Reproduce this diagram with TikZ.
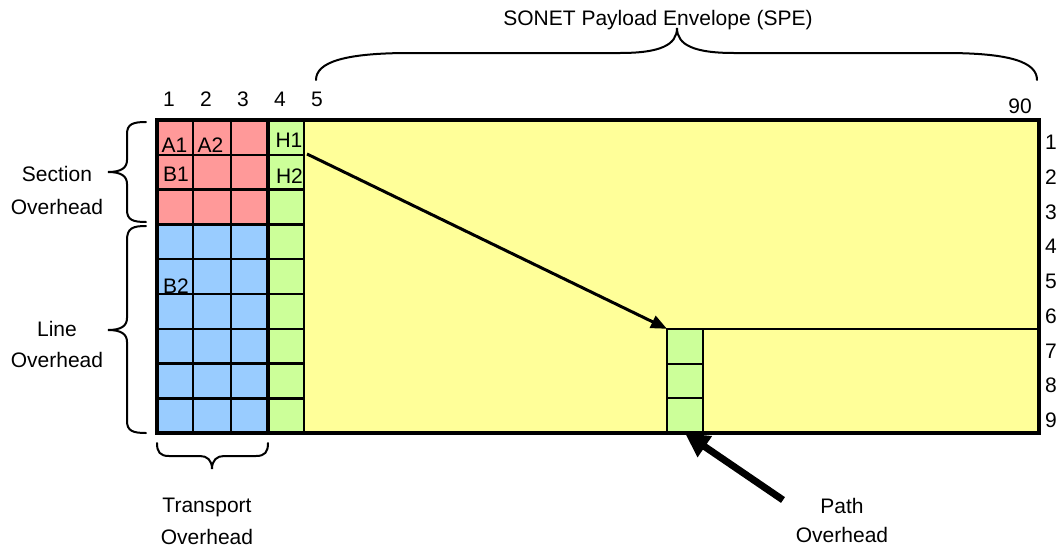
\documentclass[tikz,border=0pt]{standalone}
\usepackage{fontspec}
\setmainfont{Liberation Sans}
\usetikzlibrary{arrows.meta}
\definecolor{sohcol}{HTML}{FF9999}
\definecolor{lohcol}{HTML}{99CCFF}
\definecolor{pohcol}{HTML}{CCFF99}
\definecolor{specol}{HTML}{FFFF99}
\begin{document}
\begin{tikzpicture}[x=1pt,y=-1pt,
  lbl/.style={inner sep=0pt, text height=15pt, text depth=0pt, font=\fontsize{21}{25}\selectfont},
  gridln/.style={line width=2.4pt},
  border/.style={line width=4pt},
  bracepath/.style={line width=2pt, line cap=round},
  pcell/.style={draw, line width=2pt, fill=pohcol, minimum width=36pt, minimum height=34.8pt, inner sep=0pt, outer sep=0pt},
  ptr/.style={line width=3pt, -{Triangle[length=16pt,width=13pt]}},
  bigptr/.style={line width=7pt, -{Triangle[length=24pt,width=24pt]}}]
\useasboundingbox (0,0) rectangle (1057,549);

% fills
\fill[specol] (304,120) rectangle (1039,433.2);
\fill[sohcol] (157,120) rectangle (268,224.4);
\fill[lohcol] (157,224.4) rectangle (268,433.2);
\fill[pohcol] (268,120) rectangle (304,433.2);

% grid of overhead columns
\foreach \i in {1,...,8} \draw[gridln] (157,120+34.8*\i) -- (304,120+34.8*\i);
\foreach \xx in {193,231,304} \draw[gridln] (\xx,120) -- (\xx,433.2);

% path overhead column
\node[pcell] (p1) at (685,346.2) {};
\node[pcell] (p2) at (685,381.0) {};
\node[pcell] (p3) at (685,415.8) {};
\draw[line width=1.5pt] (p1.north east) -- (1039,328.8);

% borders
\draw[border] (157,120) rectangle (1039,433.2);
\draw[border] (268,120) -- (268,433.2);

% cell labels
\node[lbl] (ta1) at (174.5,144.5) {A1};
\node[lbl] (ta2) at (210.5,144.5) {A2};
\node[lbl] (tb1) at (176,174) {B1};
\node[lbl] (th1) at (289,140) {H1};
\node[lbl] (th2) at (289.5,176) {H2};
\node[lbl] (tb2) at (176,285.5) {B2};

% column numbers
\node[lbl] (c1) at (169,98.5) {1};
\node[lbl] (c2) at (206,98.5) {2};
\node[lbl] (c3) at (243,98.5) {3};
\node[lbl] (c4) at (280,98.5) {4};
\node[lbl] (c5) at (317,98.5) {5};
\node[lbl] (c90) at (1020,105.5) {90};

% row numbers
\foreach \r in {1,...,9} \node[lbl] (r\r) at (1051,142+34.75*\r-34.75) {\r};

% arrows
\coordinate (h1corner) at (307,154);
\draw[ptr] (h1corner) -- (p1.north west);
\coordinate (pathtail) at (783,500);
\draw[bigptr] (pathtail) -- (p3.south);

% braces
\draw[bracepath] (146,122) .. controls (133,122) and (127,124) .. (127,134) -- (127,160)
  .. controls (127,168) and (121,172) .. (108,172) .. controls (121,172) and (127,176) .. (127,184)
  -- (127,210) .. controls (127,220) and (133,222) .. (146,222);
\draw[bracepath] (146,226) .. controls (133,226) and (127,228) .. (127,240) -- (127,318)
  .. controls (127,326) and (121,330) .. (108,330) .. controls (121,330) and (127,334) .. (127,342)
  -- (127,421) .. controls (127,431) and (133,433) .. (146,433);
\draw[bracepath] (157,443) .. controls (157,452) and (160,456) .. (169,456) -- (200,456)
  .. controls (207,456) and (212,460) .. (212,469) .. controls (212,460) and (217,456) .. (224,456)
  -- (256,456) .. controls (265,456) and (268,452) .. (268,443);
\draw[bracepath] (316,80) .. controls (316,62) and (345,53) .. (410,53) -- (620,53)
  .. controls (660,53) and (677,45) .. (677,28) .. controls (677,45) and (694,53) .. (734,53)
  -- (945,53) .. controls (1010,53) and (1037,62) .. (1037,80);

% group labels
\node[lbl] (sec1) at (57,174) {Section};
\node[lbl] (sec2) at (57,207) {Overhead};
\node[lbl] (line1) at (57,329) {Line};
\node[lbl] (line2) at (57,360) {Overhead};
\node[lbl] (tr1) at (207,505) {Transport};
\node[lbl] (tr2) at (207,537) {Overhead};
\node[lbl] (po1) at (842,506) {Path};
\node[lbl] (po2) at (842,535) {Overhead};
\node[lbl] (spe) at (658,18) {SONET Payload Envelope (SPE)};
\end{tikzpicture}
\end{document}
